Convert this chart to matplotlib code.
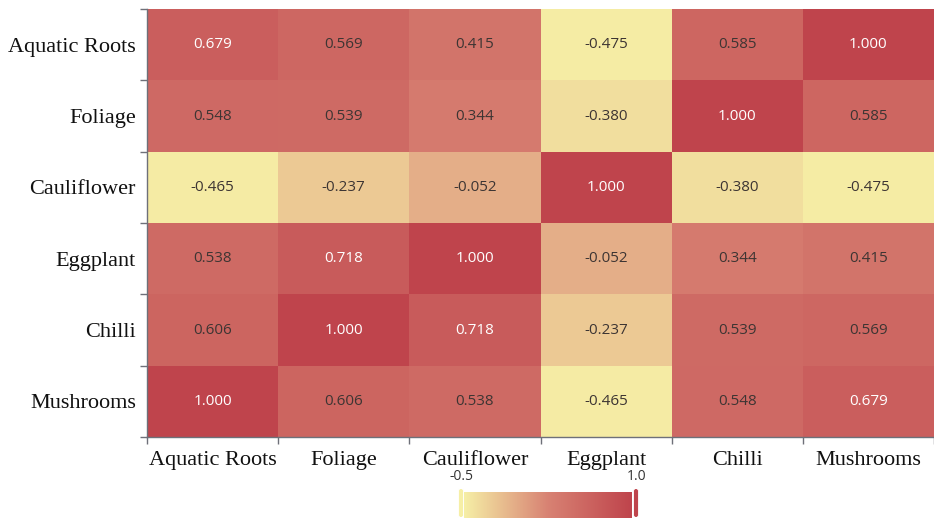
import numpy as np
import matplotlib
matplotlib.use("Agg")
import matplotlib.pyplot as plt
from matplotlib.colors import LinearSegmentedColormap
from matplotlib.patches import FancyBboxPatch

# Categories and correlation values (rows listed top to bottom)
row_labels = ["Aquatic Roots", "Foliage", "Cauliflower", "Eggplant", "Chilli", "Mushrooms"]
col_labels = ["Aquatic Roots", "Foliage", "Cauliflower", "Eggplant", "Chilli", "Mushrooms"]
row_aquatic = [0.679, 0.569, 0.415, -0.475, 0.585, 1.000]
row_foliage = [0.548, 0.539, 0.344, -0.380, 1.000, 0.585]
row_cauliflower = [-0.465, -0.237, -0.052, 1.000, -0.380, -0.475]
row_eggplant = [0.538, 0.718, 1.000, -0.052, 0.344, 0.415]
row_chilli = [0.606, 1.000, 0.718, -0.237, 0.539, 0.569]
row_mushrooms = [1.000, 0.606, 0.538, -0.465, 0.548, 0.679]
vmin, vmax = -0.5, 1.0

values = np.array([row_aquatic, row_foliage, row_cauliflower,
                   row_eggplant, row_chilli, row_mushrooms])

cmap = LinearSegmentedColormap.from_list("heat", ["#f6efa6", "#d88273", "#bf444c"])

W, H = 934, 518
fig = plt.figure(figsize=(W / 100, H / 100), dpi=100)
ax = fig.add_axes([147 / W, 1 - 437 / H, (W - 147) / W, (437 - 9) / H])

nr, nc = values.shape
ax.pcolormesh(np.arange(nc + 1), np.arange(nr + 1), values, cmap=cmap,
              vmin=vmin, vmax=vmax, shading="flat")
ax.set_xlim(0, nc)
ax.set_ylim(nr, 0)

for i in range(nr):
    for j in range(nc):
        v = values[i, j]
        color = "white" if v > 0.65 else "#3d3533"
        ax.text(j + 0.5, i + 0.5, f"{v:.3f}", ha="center", va="center",
                fontsize=11, color=color, family="Open Sans")

serif = "Liberation Serif"
ax.set_xticks(np.arange(nc) + 0.5)
ax.set_xticklabels(col_labels, fontfamily=serif, fontsize=16, color="#111111")
ax.set_yticks(np.arange(nr) + 0.5)
ax.set_yticklabels(row_labels, fontfamily=serif, fontsize=16, color="#111111")
ax.tick_params(axis="x", which="major", length=0, pad=10)
ax.tick_params(axis="y", which="major", length=0, pad=8)
ax.set_xticks(np.arange(nc + 1), minor=True)
ax.set_yticks(np.arange(nr + 1), minor=True)
ax.tick_params(axis="both", which="minor", length=5, width=1, color="#6e7079")

for side in ["top", "right"]:
    ax.spines[side].set_visible(False)
for side in ["left", "bottom"]:
    ax.spines[side].set_color("#6e7079")
    ax.spines[side].set_linewidth(1)

# Continuous colour scale below the grid
bx0, bx1, by0 = 464, 632, 492
cax = fig.add_axes([bx0 / W, 0, (bx1 - bx0) / W, (H - by0) / H])
grad = np.linspace(vmin, vmax, 256).reshape(1, -1)
cax.imshow(grad, cmap=cmap, vmin=vmin, vmax=vmax, aspect="auto",
           extent=[vmin, vmax, 0, 1])
cax.set_axis_off()

for x, val in [(bx0 - 3, vmin), (bx1 + 4, vmax)]:
    handle = FancyBboxPatch(((x - 2.5) / W, 0), 5 / W, (H - 488) / H,
                            boxstyle="round,pad=0,rounding_size=0.006",
                            transform=fig.transFigure, facecolor=cmap((val - vmin) / (vmax - vmin)),
                            edgecolor="white", linewidth=0.6, zorder=5)
    fig.patches.append(handle)

fig.text((bx0 - 3) / W, 1 - 476 / H, f"{vmin:.1f}", ha="center", va="center",
         fontsize=10, color="#333333", family="Open Sans")
fig.text((bx1 + 5) / W, 1 - 476 / H, f"{vmax:.1f}", ha="center", va="center",
         fontsize=10, color="#333333", family="Open Sans")

fig.savefig("out.png", dpi=100)
